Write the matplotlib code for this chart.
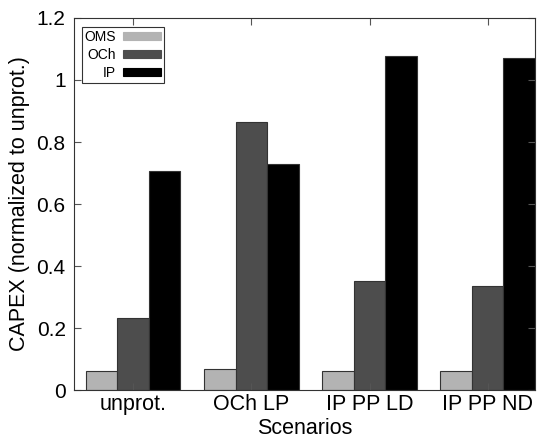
import matplotlib.pyplot as plt
import numpy as np

plt.rcParams['font.family'] = ['Liberation Sans', 'DejaVu Sans']

scenarios = ['unprot.', 'OCh LP', 'IP PP LD', 'IP PP ND']
layers = ['OMS', 'OCh', 'IP']
oms = [0.061, 0.068, 0.060, 0.060]
och = [0.232, 0.865, 0.352, 0.336]
ip = [0.706, 0.730, 1.077, 1.072]
colors = ['#b3b3b3', '#4d4d4d', '#000000']

fig = plt.figure(figsize=(5.43, 4.40), dpi=100)
ax = fig.add_axes([0.1363, 0.1136, 0.849, 0.8455])

x = np.arange(len(scenarios))
w = 0.8 / 3
for i, (vals, name) in enumerate(zip([oms, och, ip], layers)):
    ax.bar(x + (i - 1) * w, vals, w, color=colors[i], edgecolor='#333333',
           linewidth=0.8, label=name)

ax.set_xlim(-0.5, 3.4)
ax.set_ylim(0, 1.2)
ax.set_xticks(x)
ax.set_xticklabels(scenarios, fontsize=15.5)
ax.set_yticks(np.arange(0, 1.21, 0.2))
ax.set_yticklabels(['0', '0.2', '0.4', '0.6', '0.8', '1', '1.2'], fontsize=15)
ax.tick_params(direction='in', top=True, right=True, length=5, color='#555555')
ax.tick_params(axis='y', pad=6)
ax.tick_params(axis='x', pad=3)
for s in ax.spines.values():
    s.set_color('#333333')
ax.set_xlabel('Scenarios', fontsize=15.5, labelpad=2)
ax.set_ylabel('CAPEX (normalized to unprot.)', fontsize=15.5, labelpad=5)

leg = ax.legend(loc='upper left', bbox_to_anchor=(0.0174, 0.976), markerfirst=False,
                fontsize=10, frameon=True, fancybox=False, edgecolor='black',
                handlelength=2.7, handleheight=0.5, handletextpad=0.5,
                labelspacing=0.3, borderpad=0.2, borderaxespad=0)
leg.get_frame().set_linewidth(0.8)
for h in leg.legend_handles:
    h.set_edgecolor(h.get_facecolor())

fig.savefig('out.png', dpi=100)
